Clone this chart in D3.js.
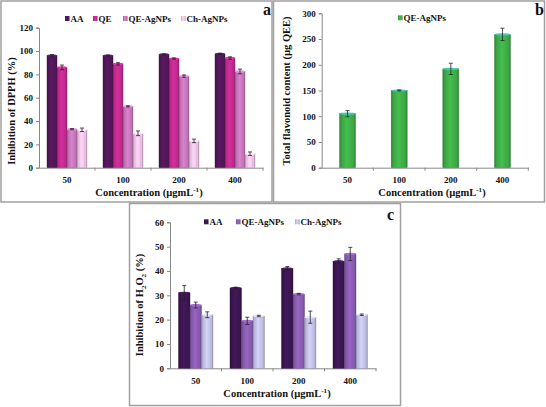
<!DOCTYPE html>
<html><head><meta charset="utf-8">
<script src="https://cdn.jsdelivr.net/npm/d3@7/dist/d3.min.js"></script>
<style>body{margin:0;background:#fff}svg{display:block}text{font-family:"Liberation Serif","Times New Roman",serif;font-weight:bold;fill:#111}</style>
</head><body><svg id="c" width="546" height="407"></svg>
<script>
const categories = ["50","100","200","400"];
// Panel a: DPPH inhibition (%)
const dpphSeries = ["AA","QE","QE-AgNPs","Ch-AgNPs"];
const dpphAA = [96, 96, 97, 97.5];
const dpphQE = [86, 89, 93.5, 94];
const dpphQEAg = [33, 52.5, 78.5, 82.5];
const dpphCh = [32.5, 29.5, 23, 12];
const dpphErrAA = [1, 0.5, 0.5, 0.5];
const dpphErrQE = [2, 1, 0.5, 1];
const dpphErrQEAg = [0.5, 0.5, 1, 2];
const dpphErrCh = [1.5, 2, 1.5, 1.5];
const dpphTicks = [0,20,40,60,80,100,120];
// Panel b: total flavonoid content
const tfcSeries = ["QE-AgNPs"];
const tfcQEAg = [105, 150, 192, 259];
const tfcErr = [6, 1, 11, 12];
const tfcTicks = [0,50,100,150,200,250,300];
// Panel c: H2O2 inhibition (%)
const h2o2Series = ["AA","QE-AgNPs","Ch-AgNPs"];
const h2o2AA = [31, 33, 41, 44];
const h2o2QEAg = [26, 19.5, 30.5, 47];
const h2o2Ch = [22, 21.5, 21, 22];
const h2o2ErrAA = [3, 0.3, 0.8, 1];
const h2o2ErrQEAg = [1.2, 1.5, 0.3, 2.7];
const h2o2ErrCh = [1.2, 0.3, 2.5, 0.3];
const h2o2Ticks = [0,10,20,30,40,50,60];

const svg = d3.select("#c");
const defs = svg.append("defs");
let gid = 0;
function grad(color){
  const id = "g"+(gid++);
  const c = d3.color(color);
  const g = defs.append("linearGradient").attr("id",id).attr("x1","0").attr("x2","1").attr("y1","0").attr("y2","0");
  g.append("stop").attr("offset","0").attr("stop-color",c.darker(0.9));
  g.append("stop").attr("offset","0.12").attr("stop-color",c.darker(0.2));
  g.append("stop").attr("offset","0.45").attr("stop-color",c.brighter(0.25));
  g.append("stop").attr("offset","0.88").attr("stop-color",c.darker(0.15));
  g.append("stop").attr("offset","1").attr("stop-color",c.darker(0.9));
  return "url(#"+id+")";
}

// panel frames
[[1,1,271,201],[273.5,1,271,201],[129.5,203.5,271,202]].forEach(r=>{
  svg.append("rect").attr("x",r[0]).attr("y",r[1]).attr("width",r[2]).attr("height",r[3])
    .attr("fill","none").attr("stroke","#a0a0a0").attr("stroke-width",1.5);
});

function panel(o){
  const g = svg.append("g");
  const x = d3.scaleBand().domain(categories).range(o.xr);
  const y = d3.scaleLinear().domain([0,o.ymax]).range(o.yr);
  const inner = d3.scaleBand().domain(o.series).range([0, x.bandwidth()*o.gw]);
  const off = x.bandwidth()*(1-o.gw)/2;
  // axes
  const ax = g.append("g").attr("transform",`translate(${o.xr[0]},0)`)
    .call(d3.axisLeft(y).tickValues(o.ticks).tickSize(3).tickPadding(3));
  ax.select(".domain").attr("stroke","#888");
  ax.selectAll(".tick line").attr("stroke","#888");
  ax.selectAll("text").style("font-size","9px").attr("fill","#111");
  const xa = g.append("g").attr("transform",`translate(0,${o.yr[0]})`)
    .call(d3.axisBottom(x).tickSize(0).tickPadding(9));
  xa.select(".domain").attr("stroke","#888");
  xa.selectAll("text").style("font-size","9px").attr("fill","#111");
  // band boundary ticks
  g.selectAll(".bt").data(categories.slice(1)).enter().append("line")
    .attr("x1",d=>x(d)).attr("x2",d=>x(d)).attr("y1",o.yr[0]).attr("y2",o.yr[0]+3).attr("stroke","#888");
  g.append("line").attr("x1",o.xr[1]).attr("x2",o.xr[1]).attr("y1",o.yr[0]).attr("y2",o.yr[0]+3).attr("stroke","#888");
  // bars
  o.series.forEach((s,si)=>{
    const fill = grad(o.colors[si]);
    const vals = o.values[si], errs = o.errs[si];
    const bw = inner.bandwidth();
    g.selectAll(".b"+si).data(categories).enter().append("rect")
      .attr("x",(d)=>x(d)+off+inner(s)).attr("width",bw)
      .attr("y",(d,i)=>y(vals[i])).attr("height",(d,i)=>y(0)-y(vals[i]))
      .attr("fill",fill).attr("stroke",d3.color(o.colors[si]).darker(0.8)).attr("stroke-width",0.4);
    // top cap
    g.selectAll(".c"+si).data(categories).enter().append("ellipse")
      .attr("cx",(d)=>x(d)+off+inner(s)+bw/2).attr("cy",(d,i)=>y(vals[i]))
      .attr("rx",bw/2).attr("ry",1.2)
      .attr("fill",o.caps ? o.caps[si] : d3.color(o.colors[si]).brighter(0.5));
    // error bars
    const eg = g.selectAll(".e"+si).data(categories).enter().append("g");
    const cx = d=>x(d)+off+inner(s)+bw/2;
    eg.append("line").attr("x1",cx).attr("x2",cx)
      .attr("y1",(d,i)=>y(vals[i]+errs[i])).attr("y2",(d,i)=>y(vals[i]-errs[i]))
      .attr("stroke","#222").attr("stroke-width",0.8);
    [1,-1].forEach(sg=>{
      eg.append("line").attr("x1",d=>cx(d)-2).attr("x2",d=>cx(d)+2)
        .attr("y1",(d,i)=>y(vals[i]+sg*errs[i])).attr("y2",(d,i)=>y(vals[i]+sg*errs[i]))
        .attr("stroke","#222").attr("stroke-width",0.8);
    });
  });
  // legend
  o.series.forEach((s,si)=>{
    const lx = o.legendX[si];
    g.append("rect").attr("x",lx).attr("y",o.legendY-3).attr("width",4.5).attr("height",5)
      .attr("fill",grad(o.colors[si]));
    g.append("text").attr("x",lx+5.5).attr("y",o.legendY+3).style("font-size","9px").text(s);
  });
  // panel letter
  g.append("text").attr("x",o.letter[0]).attr("y",o.letter[1]).style("font-size","16px").text(o.letter[2]);
  // x title
  const xt = g.append("text").attr("x",o.xtitle[0]).attr("y",o.xtitle[1]).attr("text-anchor","middle").style("font-size","10.5px");
  xt.append("tspan").text("Concentration (µgmL");
  xt.append("tspan").attr("dy",-4).style("font-size","7px").text("-1");
  xt.append("tspan").attr("dy",4).text(")");
  // y title
  const yt = g.append("text").attr("transform",`translate(${o.ytitle[0]},${o.ytitle[1]}) rotate(-90)`)
    .attr("text-anchor","middle").style("font-size","10.5px");
  o.ytitleParts.forEach(p=>{
    const t = yt.append("tspan").text(p.t);
    if(p.sub){ t.attr("dy",2.5).style("font-size","7px"); }
    if(p.back){ t.attr("dy",-2.5); }
  });
}

panel({xr:[39,263], yr:[167.7,27.7], ymax:120, ticks:dpphTicks, gw:0.714,
  series:dpphSeries, values:[dpphAA,dpphQE,dpphQEAg,dpphCh], errs:[dpphErrAA,dpphErrQE,dpphErrQEAg,dpphErrCh],
  colors:["#52165a","#c42a90","#c777bd","#eec5e6"],
  legendX:[65,93,123,181], legendY:19, letter:[263,15,"a"], xtitle:[149,196],
  ytitle:[15,111], ytitleParts:[{t:"Inhibition of DPPH (%)"}]});

panel({xr:[321.7,528.3], yr:[167.7,13.3], ymax:300, ticks:tfcTicks, gw:0.31,
  series:tfcSeries, values:[tfcQEAg], errs:[tfcErr],
  colors:["#3fae48"], caps:["#48c8b0"],
  legendX:[398], legendY:18.3, letter:[535,15,"b"], xtitle:[432,196],
  ytitle:[290,91], ytitleParts:[{t:"Total flavonoid content (µg QEE)"}]});

panel({xr:[170,376], yr:[368.3,222.3], ymax:60, ticks:h2o2Ticks, gw:0.67,
  series:h2o2Series, values:[h2o2AA,h2o2QEAg,h2o2Ch], errs:[h2o2ErrAA,h2o2ErrQEAg,h2o2ErrCh],
  colors:["#3c1652","#8a5cb2","#c2c2e6"],
  legendX:[204,236,295], legendY:222.3, letter:[387,220,"c"], xtitle:[277,397],
  ytitle:[143,305], ytitleParts:[{t:"Inhibition of H"},{t:"2",sub:true},{t:"O",back:true},{t:"2",sub:true},{t:" (%)",back:true}]});
</script>
</body></html>
